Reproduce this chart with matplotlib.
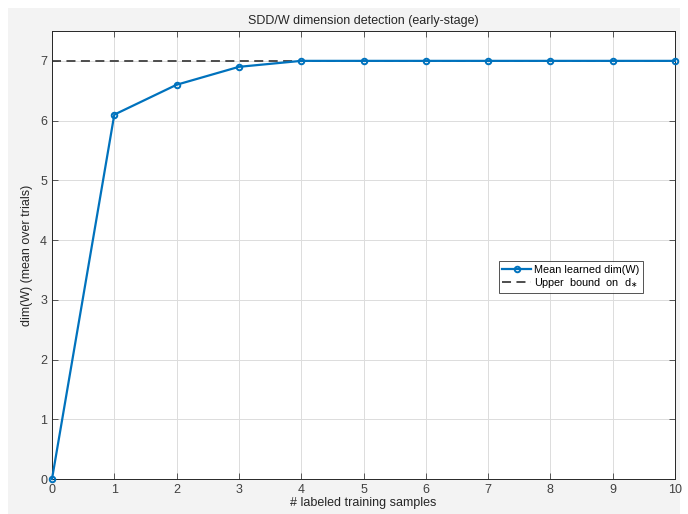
import matplotlib.pyplot as plt
from matplotlib.patches import Rectangle

plt.rcParams['font.family'] = ['Liberation Sans', 'DejaVu Sans']

samples = [0, 1, 2, 3, 4, 5, 6, 7, 8, 9, 10]
mean_dim = [0, 6.1, 6.6, 6.9, 7, 7, 7, 7, 7, 7, 7]
upper_bound = 7

fig = plt.figure(figsize=(6.88, 5.14), dpi=100, facecolor='white')
# grey MATLAB-like figure panel
fig.patches.append(Rectangle((8 / 688, 0), 672 / 688, 1 - 8 / 514,
                             transform=fig.transFigure, facecolor='#f3f3f3',
                             edgecolor='none', zorder=-1))

ax = fig.add_axes([52 / 688, 1 - 479 / 514, 623 / 688, 448 / 514])
ax.set_facecolor('white')

ax.axhline(upper_bound, color='#404040', ls=(0, (5, 3)), lw=1.3,
           label=r'Upper  bound  on  d$_{\ast}$', zorder=2)
ax.plot(samples, mean_dim, color='#0072BD', lw=1.6, marker='o', ms=4,
        mfc='none', mew=1.4, label='Mean learned dim(W)', zorder=3, clip_on=False)

ax.set_xlim(0, 10)
ax.set_ylim(0, 7.5)
ax.set_xticks(samples)
ax.set_yticks(range(8))
ax.grid(True, color='#dcdcdc', lw=0.7)
ax.set_axisbelow(True)
ax.tick_params(direction='in', top=True, right=True, length=4,
               labelsize=9, colors='#404040', width=0.6)
for s in ax.spines.values():
    s.set_color('#262626')
    s.set_linewidth(0.7)

ax.set_xlabel('# labeled training samples', fontsize=9, color='#262626', labelpad=1)
ax.set_ylabel('dim(W) (mean over trials)', fontsize=9, color='#262626', labelpad=5)
ax.set_title('SDD/W dimension detection (early-stage)', fontsize=9,
             color='#262626', pad=5)

h, l = ax.get_legend_handles_labels()
leg = ax.legend(h[::-1], l[::-1], loc='center left', bbox_to_anchor=(0.717, 0.45),
                fontsize=7.8, frameon=True, fancybox=False, edgecolor='#262626',
                borderpad=0.3, handlelength=2.7, handletextpad=0.3,
                labelspacing=0.15, borderaxespad=0)
leg.get_frame().set_linewidth(0.7)

fig.savefig('out.png', dpi=100, facecolor=fig.get_facecolor())
